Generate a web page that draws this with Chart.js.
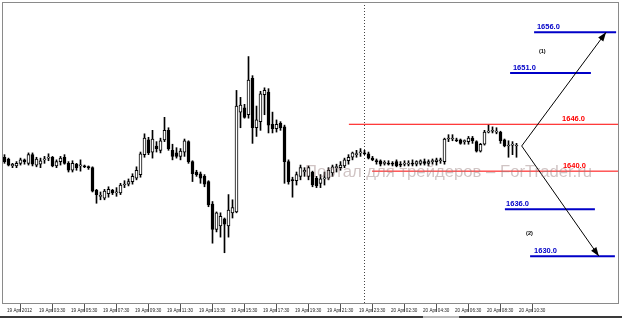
<!DOCTYPE html>
<html>
<head>
<meta charset="utf-8">
<script src="https://cdn.jsdelivr.net/npm/chart.js@4.4.0/dist/chart.umd.min.js"></script>
<style>
  html, body { margin: 0; padding: 0; background: #fff; }
  #wrap { width: 622px; height: 320px; }
</style>
</head>
<body>
<div id="wrap"><canvas id="chart" width="622" height="320"></canvas></div>
<script>
// Gold M15, 19-20 Apr 2012, one label every 8 bars
const timeLabels = ['19 Apr 2012', '19 Apr 03:30', '19 Apr 05:30', '19 Apr 07:30', '19 Apr 09:30',
  '19 Apr 11:30', '19 Apr 13:30', '19 Apr 15:30', '19 Apr 17:30', '19 Apr 19:30', '19 Apr 21:30',
  '19 Apr 23:30', '20 Apr 02:30', '20 Apr 04:30', '20 Apr 06:30', '20 Apr 08:30', '20 Apr 10:30'];
const barsPerLabel = 8;

const openPrices = [
  1641.7, 1641.5, 1640.7, 1640.7, 1641.0, 1641.4, 1641.0, 1642.0, 1640.8, 1640.9,
  1641.4, 1641.6, 1641.7, 1640.7, 1641.2, 1641.7, 1641.0, 1640.2, 1640.9, 1640.7,
  1640.7, 1640.6, 1640.5, 1637.9, 1637.2, 1637.0, 1637.5, 1637.9, 1637.6, 1637.6,
  1638.5, 1638.6, 1638.9, 1639.3, 1639.7, 1642.0, 1643.7, 1642.3, 1643.0, 1642.5,
  1643.7, 1644.8, 1642.5, 1642.2, 1641.8, 1642.3, 1643.5, 1641.2, 1640.0, 1639.8,
  1639.5, 1638.9, 1636.3, 1633.4, 1633.8, 1634.6, 1633.8, 1635.3, 1635.4, 1646.9,
  1647.4, 1646.6, 1650.8, 1645.1, 1645.8, 1648.9, 1649.2, 1645.5, 1645.0, 1645.6,
  1645.2, 1641.2, 1639.1, 1639.0, 1639.5, 1640.0, 1639.5, 1640.0, 1639.3, 1638.7,
  1639.2, 1639.3, 1639.9, 1640.5, 1640.5, 1640.7, 1641.3, 1641.7, 1642.0, 1642.2,
  1642.2, 1642.1, 1641.6, 1641.3, 1641.3, 1641.0, 1641.0, 1641.0, 1641.2, 1640.9,
  1640.9, 1640.9, 1641.0, 1640.9, 1641.0, 1641.2, 1641.0, 1641.2, 1641.2, 1641.3,
  1641.2, 1643.8, 1643.8, 1643.7, 1643.7, 1643.5, 1643.5, 1643.9, 1643.5, 1642.4,
  1643.2, 1644.6, 1644.7, 1644.6, 1644.6, 1643.7, 1643.0, 1643.1, 1643.0];
const highPrices = [
  1642.0, 1641.6, 1641.0, 1641.2, 1641.6, 1641.5, 1642.2, 1642.2, 1641.7, 1641.6,
  1641.8, 1642.1, 1641.8, 1641.4, 1641.8, 1642.0, 1641.2, 1641.3, 1641.0, 1641.4,
  1640.8, 1640.7, 1640.6, 1638.0, 1637.7, 1638.0, 1638.3, 1638.0, 1638.2, 1638.7,
  1639.0, 1639.2, 1639.8, 1640.6, 1642.3, 1644.4, 1644.0, 1644.8, 1643.5, 1643.9,
  1646.3, 1645.1, 1643.2, 1642.8, 1642.7, 1643.8, 1643.6, 1641.3, 1640.2, 1640.0,
  1639.7, 1639.0, 1636.6, 1635.4, 1635.3, 1634.7, 1637.4, 1636.8, 1649.4, 1648.6,
  1647.8, 1653.3, 1651.1, 1647.6, 1649.3, 1649.7, 1649.6, 1646.9, 1646.0, 1645.8,
  1645.4, 1641.4, 1639.4, 1640.0, 1640.8, 1640.5, 1640.7, 1640.1, 1639.5, 1639.7,
  1640.0, 1640.5, 1640.8, 1640.9, 1641.2, 1641.6, 1642.0, 1642.3, 1642.5, 1642.7,
  1642.5, 1642.3, 1641.8, 1641.5, 1641.4, 1641.3, 1641.3, 1641.2, 1641.4, 1641.2,
  1641.3, 1641.3, 1641.4, 1641.3, 1641.4, 1641.5, 1641.4, 1641.5, 1641.6, 1641.6,
  1643.9, 1644.3, 1644.3, 1643.9, 1643.8, 1643.7, 1644.1, 1644.1, 1643.6, 1643.3,
  1644.8, 1645.4, 1645.2, 1645.1, 1644.7, 1643.8, 1643.6, 1643.5, 1643.3];
const lowPrices = [
  1641.0, 1640.7, 1640.5, 1640.5, 1640.8, 1640.9, 1640.8, 1640.7, 1640.6, 1640.5,
  1641.0, 1641.3, 1640.6, 1640.5, 1640.8, 1640.9, 1640.0, 1640.0, 1640.2, 1640.1,
  1640.5, 1640.3, 1637.7, 1636.4, 1636.8, 1636.8, 1637.1, 1637.4, 1637.2, 1637.4,
  1638.2, 1638.4, 1638.6, 1639.1, 1639.4, 1641.7, 1642.0, 1641.6, 1642.3, 1642.2,
  1643.5, 1642.5, 1641.4, 1641.6, 1641.4, 1641.8, 1641.0, 1638.9, 1639.5, 1638.7,
  1638.3, 1636.0, 1631.8, 1633.1, 1632.5, 1630.7, 1632.5, 1634.7, 1635.3, 1645.1,
  1646.2, 1646.2, 1643.3, 1644.1, 1644.8, 1646.6, 1644.5, 1644.5, 1644.6, 1644.8,
  1638.7, 1638.6, 1637.1, 1638.5, 1639.1, 1639.5, 1639.1, 1638.3, 1638.2, 1638.2,
  1638.5, 1639.1, 1639.5, 1640.0, 1640.2, 1640.5, 1640.9, 1641.4, 1641.7, 1641.8,
  1642.0, 1641.5, 1641.3, 1640.9, 1640.7, 1640.8, 1640.8, 1640.7, 1640.6, 1640.6,
  1640.7, 1640.7, 1640.7, 1640.7, 1640.8, 1640.8, 1640.7, 1640.9, 1640.8, 1641.0,
  1640.9, 1643.5, 1643.6, 1643.5, 1643.2, 1643.2, 1643.2, 1643.3, 1642.3, 1642.3,
  1643.1, 1644.5, 1644.5, 1644.4, 1643.3, 1642.9, 1641.7, 1642.0, 1641.7];
const closePrices = [
  1641.2, 1640.8, 1640.9, 1641.0, 1641.4, 1641.2, 1642.0, 1640.9, 1641.5, 1641.3,
  1641.5, 1641.6, 1640.7, 1641.2, 1641.6, 1641.0, 1640.2, 1641.0, 1640.5, 1640.8,
  1640.6, 1640.5, 1637.8, 1637.4, 1637.2, 1637.8, 1638.0, 1637.6, 1637.6, 1638.5,
  1638.6, 1638.9, 1639.5, 1640.2, 1642.1, 1643.9, 1642.2, 1643.8, 1642.7, 1643.6,
  1644.8, 1642.7, 1641.8, 1641.8, 1642.4, 1643.6, 1641.2, 1639.8, 1639.7, 1639.3,
  1638.6, 1636.2, 1633.4, 1635.3, 1634.9, 1634.0, 1635.6, 1635.9, 1647.6, 1647.7,
  1646.3, 1650.6, 1645.1, 1646.0, 1649.0, 1649.4, 1645.4, 1645.0, 1645.5, 1645.1,
  1641.2, 1638.9, 1639.0, 1639.7, 1640.5, 1640.2, 1640.5, 1638.5, 1638.4, 1639.2,
  1639.3, 1640.2, 1640.6, 1640.6, 1640.8, 1641.4, 1641.7, 1642.2, 1642.1, 1642.3,
  1642.1, 1641.6, 1641.4, 1641.2, 1640.9, 1641.0, 1640.9, 1640.9, 1640.7, 1640.8,
  1641.0, 1641.0, 1640.9, 1641.2, 1641.3, 1641.0, 1641.2, 1641.3, 1641.4, 1641.4,
  1643.8, 1643.8, 1643.8, 1643.6, 1643.3, 1643.6, 1643.9, 1643.6, 1642.4, 1643.2,
  1644.6, 1644.6, 1644.7, 1644.6, 1643.6, 1643.0, 1643.0, 1643.1, 1643.0];

// start of the new trading day (bar index)
const daySeparatorBar = 90;

// hand drawn levels: caption, price where the line sits, bar range, caption bar, kind
const levelNames = ['1656.0', '1651.0', '1646.0', '1640.0', '1636.0', '1630.0'];
const levelPrices = [1656.1, 1651.4, 1645.5, 1640.1, 1635.7, 1630.3];
const levelFrom = [132.4, 126.4, 86.1, 91.9, 125.1, 131.4];
const levelTo = [152.9, 146.6, 153.4, 153.4, 147.6, 152.6];
const levelCaptionBar = [133.1, 127.1, 139.4, 139.6, 125.4, 132.4];
const levelKinds = ['target', 'target', 'range', 'range', 'target', 'target'];

// scenario arrows (1) up and (2) down from the same pivot
const pivotBar = 129.3;
const pivotPrice = 1643.0;
const scenarioNames = ['(1)', '(2)'];
const scenarioTargetBar = [150.4, 148.6];
const scenarioTargetPrice = [1656.1, 1630.3];
const scenarioCaptionBar = [133.6, 130.4];
const scenarioCaptionPrice = [1653.9, 1632.9];

const watermarkText = 'Портал для трейдеров – ForTrader.ru';

const levelStyle = {
  target: { color: '#0000c8', width: 2 },
  range: { color: '#ff0000', width: 1 },
};

const bars = openPrices.map((_, i) => i);
const bodies = bars.map(i => ({ x: i, y: [openPrices[i], closePrices[i]] }));
const wicks = bars.map(i => ({ x: i, y: [lowPrices[i], highPrices[i]] }));
const bodyColors = bars.map(i => closePrices[i] >= openPrices[i] ? '#ffffff' : '#000000');

const yMin = 1624.91;
const yMax = 1659.47;

const datasets = [
  {
    type: 'bar', label: 'body', data: bodies, order: 0,
    backgroundColor: bodyColors, borderColor: '#000', borderWidth: 1,
    borderSkipped: false, barThickness: 3, minBarLength: 1, grouped: false,
  },
  {
    type: 'bar', label: 'wick', data: wicks, order: 1,
    backgroundColor: '#000', borderWidth: 0, barThickness: 1, minBarLength: 1, grouped: false,
  },
  {
    type: 'line', label: 'day', order: 5,
    data: [{ x: daySeparatorBar, y: yMin }, { x: daySeparatorBar, y: yMax }],
    borderColor: '#444', borderWidth: 1, borderDash: [1, 2], pointRadius: 0,
  },
];

levelNames.forEach((name, k) => {
  const st = levelStyle[levelKinds[k]];
  datasets.push({
    type: 'line', label: name, order: 3,
    data: [{ x: levelFrom[k], y: levelPrices[k] }, { x: levelTo[k], y: levelPrices[k] }],
    borderColor: st.color, borderWidth: st.width, pointRadius: 0,
  });
});

const arrowIndexes = [];
scenarioNames.forEach((name, k) => {
  arrowIndexes.push(datasets.length);
  datasets.push({
    type: 'line', label: name, order: 2,
    data: [{ x: pivotBar, y: pivotPrice }, { x: scenarioTargetBar[k], y: scenarioTargetPrice[k] }],
    borderColor: '#000', borderWidth: 1, pointRadius: 0,
  });
});

const decorations = {
  id: 'decorations',
  beforeDraw(chart) {
    const { ctx, width, height } = chart;
    ctx.save();
    ctx.fillStyle = '#fff';
    ctx.fillRect(0, 0, width, height);
    ctx.restore();
  },
  afterDatasetsDraw(chart) {
    const { ctx, chartArea: a, scales: { x, y } } = chart;
    ctx.save();

    // arrow heads
    arrowIndexes.forEach(idx => {
      const pts = chart.getDatasetMeta(idx).data;
      const p0 = pts[0], p1 = pts[pts.length - 1];
      const ang = Math.atan2(p1.y - p0.y, p1.x - p0.x);
      const len = 9, half = 3.2;
      ctx.beginPath();
      ctx.moveTo(p1.x, p1.y);
      ctx.lineTo(p1.x - len * Math.cos(ang) + half * Math.sin(ang), p1.y - len * Math.sin(ang) - half * Math.cos(ang));
      ctx.lineTo(p1.x - len * Math.cos(ang) - half * Math.sin(ang), p1.y - len * Math.sin(ang) + half * Math.cos(ang));
      ctx.closePath();
      ctx.fillStyle = '#000';
      ctx.fill();
    });

    // level captions
    ctx.font = 'bold 7.5px "Liberation Sans", Arial, sans-serif';
    ctx.textAlign = 'left';
    ctx.textBaseline = 'alphabetic';
    levelNames.forEach((name, k) => {
      ctx.fillStyle = levelStyle[levelKinds[k]].color;
      ctx.fillText(name, x.getPixelForValue(levelCaptionBar[k]), y.getPixelForValue(levelPrices[k]) - 3);
    });

    // scenario captions
    ctx.font = 'bold 5.5px "Liberation Sans", Arial, sans-serif';
    ctx.fillStyle = '#000';
    ctx.textBaseline = 'middle';
    scenarioNames.forEach((name, k) => {
      ctx.fillText(name, x.getPixelForValue(scenarioCaptionBar[k]), y.getPixelForValue(scenarioCaptionPrice[k]));
    });

    // watermark
    ctx.font = '16.7px "Liberation Sans", Arial, sans-serif';
    ctx.fillStyle = 'rgba(150, 125, 125, 0.45)';
    ctx.textBaseline = 'alphabetic';
    ctx.fillText(watermarkText, a.left + 302, a.top + 174);

    // frame
    ctx.strokeStyle = '#8a8a8a';
    ctx.lineWidth = 1;
    ctx.strokeRect(a.left - 0.5, a.top - 0.5, a.right - a.left + 1, a.bottom - a.top + 1);
    ctx.restore();
  },
  afterDraw(chart) {
    const { ctx, width, height } = chart;
    ctx.save();
    ctx.fillStyle = '#3a3a3a';
    ctx.fillRect(0, height - 4, 423, 2);
    ctx.fillRect(459, height - 4, width - 459, 2);
    ctx.fillStyle = '#b8b8b8';
    ctx.fillRect(423, height - 4, 36, 2);
    ctx.restore();
  },
};

new Chart(document.getElementById('chart'), {
  type: 'bar',
  data: { datasets },
  options: {
    responsive: false,
    animation: false,
    devicePixelRatio: 1,
    layout: { padding: { left: 3, right: 4, top: 3, bottom: 3 } },
    plugins: { legend: { display: false }, tooltip: { enabled: false } },
    scales: {
      x: {
        type: 'linear',
        offset: false,
        min: -0.375,
        max: 153.375,
        border: { display: false },
        grid: { drawOnChartArea: false, drawTicks: true, tickLength: 9, color: '#555' },
        afterBuildTicks(scale) {
          scale.ticks = timeLabels.map((_, k) => ({ value: k * barsPerLabel }));
        },
        afterFit(scale) { scale.height = 14; },
        ticks: {
          autoSkip: false,
          maxRotation: 0,
          align: 'start',
          padding: -4,
          color: '#222',
          font: { family: '"Liberation Sans", Arial, sans-serif', size: 4.6 },
          callback: (value, index) => '  ' + timeLabels[index],
        },
      },
      y: {
        display: false,
        min: yMin,
        max: yMax,
      },
    },
  },
  plugins: [decorations],
});
</script>
</body>
</html>
